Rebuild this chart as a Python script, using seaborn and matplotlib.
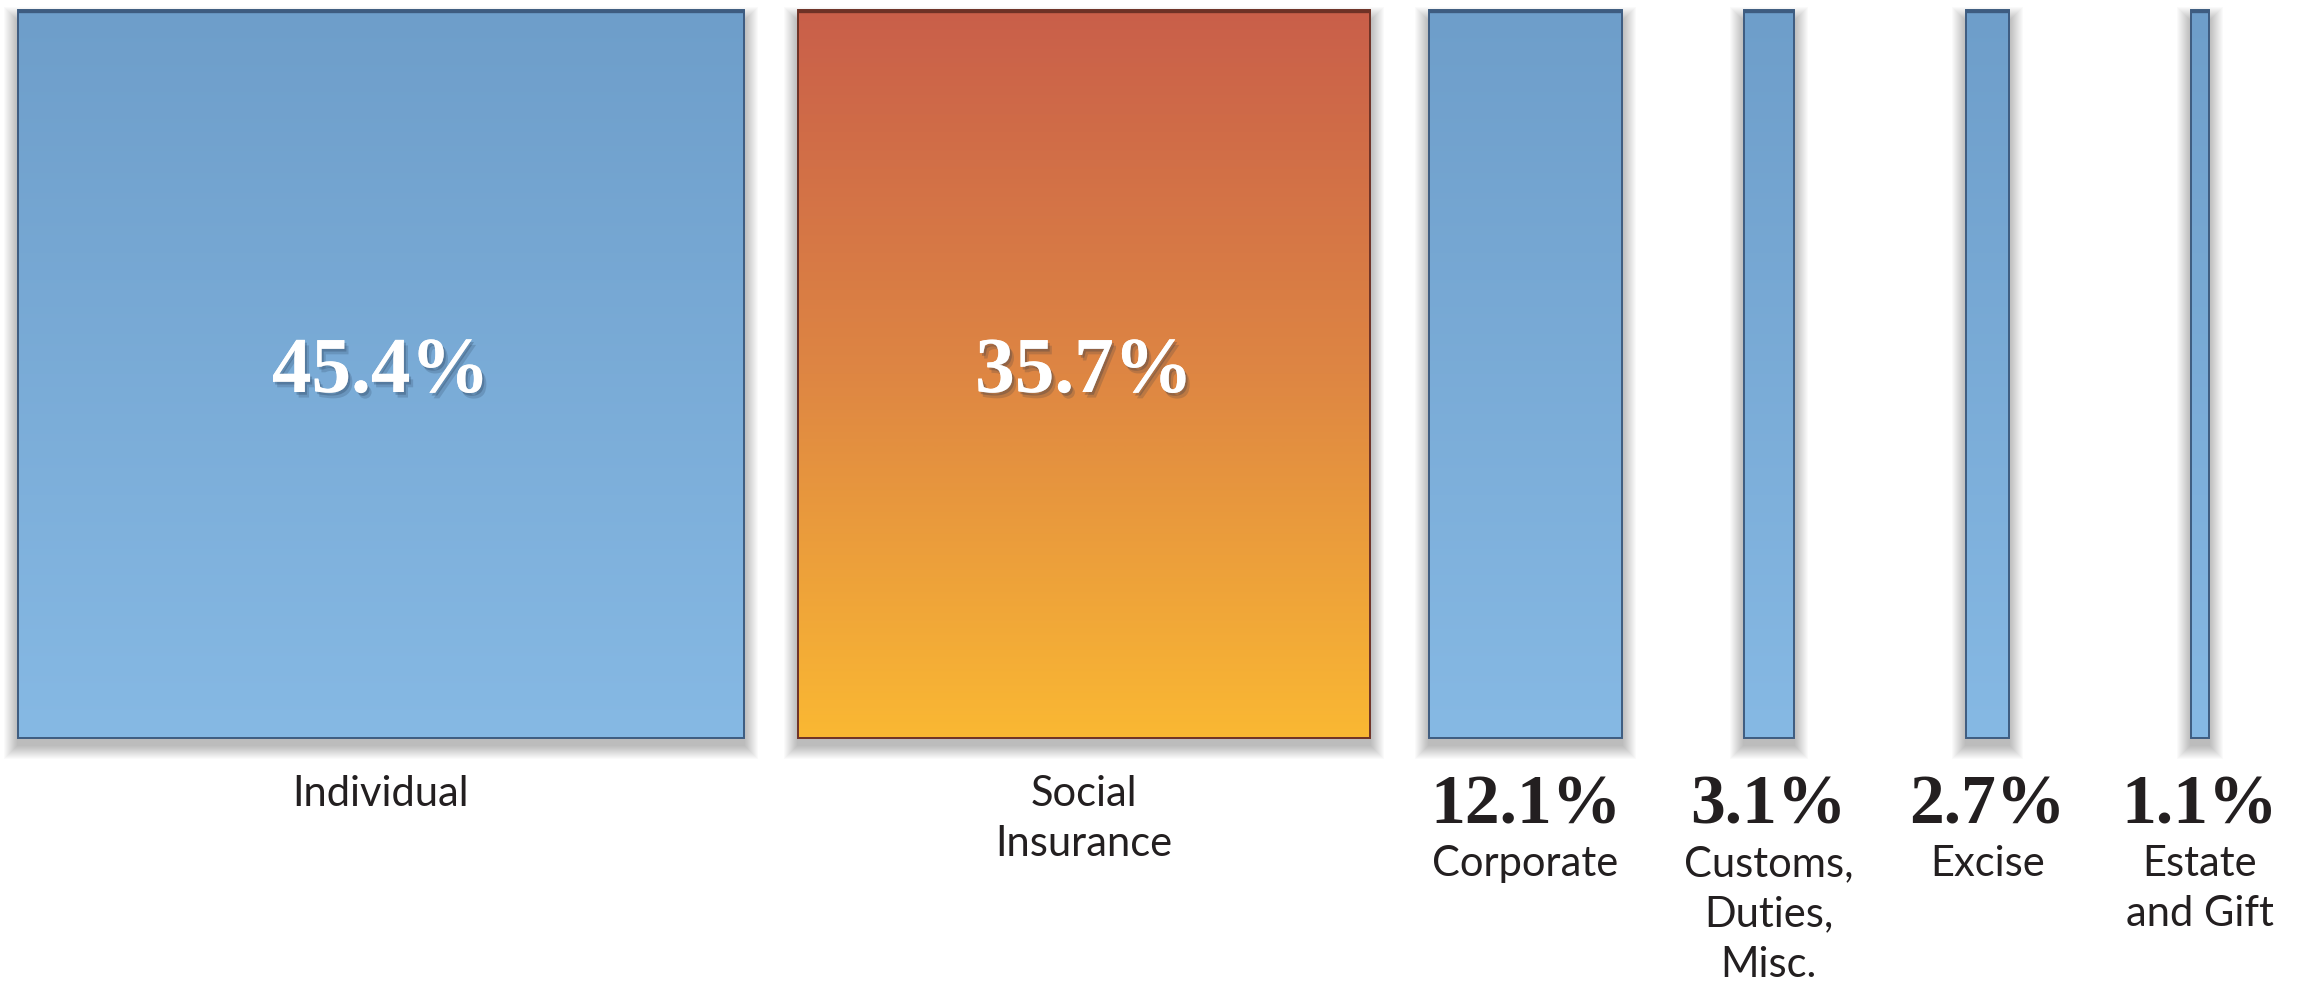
import numpy as np
import pandas as pd
import seaborn as sns
import matplotlib.pyplot as plt
import matplotlib.patheffects as pe
from matplotlib.patches import Rectangle
from matplotlib.colors import LinearSegmentedColormap

# federal revenue shares by source (%)
categories = ["Individual", "Social\nInsurance", "Corporate",
              "Customs,\nDuties,\nMisc.", "Excise", "Estate\nand Gift"]
shares = [45.4, 35.7, 12.1, 3.1, 2.7, 1.1]
value_labels = ["45.4%", "35.7%", "12.1%", "3.1%", "2.7%", "1.1%"]
highlight = "Social\nInsurance"

# layout: bar width is the share itself, spacing in the same units
left_margin = 1.1
gaps = [3.4, 3.7, 7.6, 10.75, 11.4]
PX_X = 1 / 16.0      # one pixel in x data units
PX_Y = 1 / 728.0     # one pixel in y data units

df = pd.DataFrame({"category": categories, "share": shares, "height": 1.0})

sns.set_style("white")
SANS = ["Lato", "DejaVu Sans"]
SERIF = ["Liberation Serif", "DejaVu Serif"]

fig = plt.figure(figsize=(23.01, 9.81), dpi=100)
ax = fig.add_axes([0, 0, 1, 1])
sns.barplot(data=df, x="category", y="height", ax=ax, color="#7AAAD6",
            saturation=1, linewidth=1.4, edgecolor="#3E5C80")

blue_cmap = LinearSegmentedColormap.from_list("blue", ["#6E9ECA", "#86B9E4"])
red_cmap = LinearSegmentedColormap.from_list("red", ["#C95F4A", "#DE8643", "#FAB833"])
grad = np.linspace(0, 1, 256).reshape(-1, 1)

lefts = [left_margin]
for s, g in zip(shares[:-1], gaps):
    lefts.append(lefts[-1] + s + g)

for i, bar in enumerate(ax.patches):
    x0 = lefts[i]
    w = shares[i]
    bar.set_x(x0)
    bar.set_width(w)
    bar.set_facecolor("none")
    bar.set_zorder(4)
    is_hi = categories[i] == highlight
    edge = "#6E3226" if is_hi else "#3E5C80"
    bar.set_edgecolor(edge)

    # soft drop shadow
    for k in range(1, 15):
        ax.add_patch(Rectangle((x0 - k * PX_X, -7 * PX_Y - k * PX_Y),
                               w + 2 * k * PX_X, 1 + 2 * k * PX_Y - 4 * PX_Y,
                               facecolor="black", edgecolor="none",
                               alpha=0.02, zorder=1))

    img = ax.imshow(grad, extent=(x0, x0 + w, 0, 1), origin="upper",
                    cmap=red_cmap if is_hi else blue_cmap, aspect="auto",
                    interpolation="bicubic", zorder=2)
    img.set_clip_path(bar)
    ax.plot([x0, x0 + w], [1 - PX_Y, 1 - PX_Y], color=edge, lw=2.4,
            solid_capstyle="butt", zorder=5)

    cx = x0 + w / 2
    lines = categories[i].split("\n")
    if w > 20:
        # big bars: value inside in white
        ax.text(cx, 346 * PX_Y, value_labels[i], ha="center", va="baseline",
                color="white", fontsize=57, fontweight="bold", family=SERIF, zorder=6,
                path_effects=[pe.withSimplePatchShadow(offset=(3, -4), shadow_rgbFace="#1d3047",
                                                       alpha=0.18),
                              pe.withSimplePatchShadow(offset=(1.5, -2), shadow_rgbFace="#1d3047",
                                                       alpha=0.25)])
        base = -68 * PX_Y
    else:
        ax.text(cx, -85 * PX_Y, value_labels[i], ha="center", va="baseline",
                color="#231F20", fontsize=50, fontweight="bold", family=SERIF, zorder=6)
        base = -138 * PX_Y
    for j, line in enumerate(lines):
        ax.text(cx, base - j * 50.5 * PX_Y, line, ha="center", va="baseline",
                color="#231F20", fontsize=30, family=SANS, zorder=6)

ax.set_xlim(0, 2301 * PX_X)
ax.set_ylim(-(981 - 738) * PX_Y, 1 + 10 * PX_Y)
ax.set_axis_off()

fig.savefig("out.png", dpi=100, facecolor="white")
